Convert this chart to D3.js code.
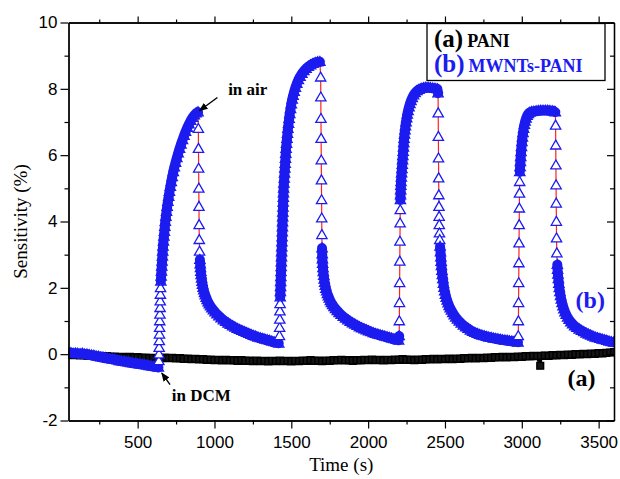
<!DOCTYPE html>
<html><head><meta charset="utf-8">
<script src="https://cdn.jsdelivr.net/npm/d3@7"></script>
<style>html,body{margin:0;padding:0;background:#fff}svg{display:block}</style>
</head><body><svg id="c" width="620" height="479"></svg>
<script>
// ---------- DATA ----------
const xDomain = [50, 3600];
const yDomain = [-2, 10];
const xMajorTicks = [500, 1000, 1500, 2000, 2500, 3000, 3500];
const xMinorTicks = [250, 750, 1250, 1750, 2250, 2750, 3250];
const yMajorTicks = [-2, 0, 2, 4, 6, 8, 10];
const yMinorTicks = [-1, 1, 3, 5, 7, 9];
const xTitle = "Time (s)";
const yTitle = "Sensitivity (%)";
const legendLabels = [["(a)", "PANI"], ["(b)", "MWNTs-PANI"]];

// (a) PANI  [time s, sensitivity %]
const pani = [[50,-0.02],[75,-0.03],[100,-0.02],[125,-0.04],[150,-0.03],[175,-0.05],[200,-0.04],[225,-0.06],[250,-0.05],[275,-0.07],[300,-0.06],[325,-0.08],[350,-0.07],[375,-0.09],[400,-0.08],[425,-0.1],[450,-0.08],[475,-0.1],[500,-0.09],[525,-0.11],[550,-0.1],[575,-0.12],[600,-0.11],[625,-0.13],[650,-0.12],[675,-0.1],[700,-0.12],[725,-0.11],[750,-0.13],[775,-0.12],[800,-0.14],[825,-0.13],[850,-0.15],[875,-0.14],[900,-0.16],[925,-0.15],[950,-0.17],[975,-0.16],[1000,-0.18],[1025,-0.17],[1050,-0.19],[1075,-0.17],[1100,-0.19],[1125,-0.18],[1150,-0.2],[1175,-0.18],[1200,-0.2],[1225,-0.19],[1250,-0.21],[1275,-0.19],[1300,-0.21],[1325,-0.2],[1350,-0.22],[1375,-0.2],[1400,-0.21],[1425,-0.19],[1450,-0.21],[1475,-0.2],[1500,-0.22],[1525,-0.2],[1550,-0.21],[1575,-0.19],[1600,-0.2],[1625,-0.18],[1650,-0.2],[1675,-0.19],[1700,-0.21],[1725,-0.19],[1750,-0.2],[1775,-0.18],[1800,-0.19],[1825,-0.17],[1850,-0.19],[1875,-0.18],[1900,-0.2],[1925,-0.18],[1950,-0.19],[1975,-0.17],[2000,-0.18],[2025,-0.16],[2050,-0.18],[2075,-0.17],[2100,-0.19],[2125,-0.17],[2150,-0.18],[2175,-0.16],[2200,-0.17],[2225,-0.15],[2250,-0.17],[2275,-0.16],[2300,-0.18],[2325,-0.16],[2350,-0.17],[2375,-0.15],[2400,-0.16],[2425,-0.14],[2450,-0.16],[2475,-0.14],[2500,-0.15],[2525,-0.13],[2550,-0.15],[2575,-0.13],[2600,-0.14],[2625,-0.12],[2650,-0.13],[2675,-0.11],[2700,-0.13],[2725,-0.11],[2750,-0.12],[2775,-0.1],[2800,-0.11],[2825,-0.09],[2850,-0.1],[2875,-0.08],[2900,-0.1],[2925,-0.08],[2950,-0.09],[2975,-0.07],[3000,-0.08],[3025,-0.06],[3050,-0.07],[3075,-0.05],[3100,-0.06],[3120,-0.35],[3125,-0.05],[3150,-0.04],[3175,-0.05],[3200,-0.03],[3225,-0.04],[3250,-0.02],[3275,-0.03],[3300,-0.01],[3325,-0.02],[3350,0.0],[3375,-0.01],[3400,0.01],[3425,0.0],[3450,0.02],[3475,0.01],[3500,0.03],[3525,0.02],[3550,0.04],[3575,0.05],[3600,0.06]];

// (b) MWNTs-PANI  [time s, sensitivity %], split by exposure segment
const bBaseline = [[50,0.03],[65,0.04],[80,0.02],[95,0.03],[110,0.02],[125,0.01],[140,0.02],[155,0.0],[170,0.0],[185,-0.02],[200,-0.03],[215,-0.04],[230,-0.06],[245,-0.07],[260,-0.09],[275,-0.1],[290,-0.11],[305,-0.13],[320,-0.14],[335,-0.15],[350,-0.16],[365,-0.18],[380,-0.2],[395,-0.21],[410,-0.22],[425,-0.23],[440,-0.24],[455,-0.26],[470,-0.27],[485,-0.28],[500,-0.29],[515,-0.3],[530,-0.31],[545,-0.32],[560,-0.33],[575,-0.35],[590,-0.36],[605,-0.37],[620,-0.38],[635,-0.4]];
const bRise1 = [[638,-0.2],[639,0.0],[640,0.2],[641,0.4],[642,0.6],[643,0.8],[644,1.0],[645,1.2],[646,1.4],[647,1.6],[648,1.8],[649,2.0],[651,2.2],[653,2.35],[655,2.5],[657,2.65],[659,2.8],[661,2.95],[663,3.1],[665,3.25],[668,3.4],[671,3.55],[674,3.7],[677,3.85],[680,4.0],[684,4.15],[688,4.3],[692,4.45],[697,4.6],[702,4.75],[707,4.9],[713,5.05],[719,5.2],[725,5.35],[732,5.5],[739,5.64],[747,5.78],[755,5.92],[764,6.06],[773,6.2],[782,6.33],[792,6.46],[802,6.59],[812,6.71],[823,6.83],[834,6.94],[845,7.04],[857,7.13],[869,7.21],[881,7.27],[893,7.3]];
const bFall1 = [[895,6.8],[896,6.2],[897,5.6],[898,5.0],[899,4.45],[900,3.9],[901,3.45],[903,3.1],[905,2.85],[907,2.72],[909,2.6],[911,2.49],[913,2.39],[916,2.29],[919,2.19],[922,2.1],[926,2.01],[930,1.93],[935,1.85],[940,1.78],[946,1.71],[952,1.64],[959,1.57],[966,1.51],[974,1.45],[983,1.39],[993,1.33],[1004,1.27],[1016,1.21],[1029,1.15],[1043,1.09],[1058,1.03],[1073,0.98],[1088,0.93],[1103,0.89],[1118,0.85],[1133,0.81],[1148,0.77],[1163,0.74],[1178,0.71],[1193,0.68],[1208,0.65],[1223,0.62],[1238,0.59],[1253,0.56],[1268,0.54],[1283,0.51],[1298,0.49],[1313,0.47],[1328,0.45],[1343,0.43],[1358,0.41],[1373,0.39],[1388,0.37],[1403,0.35],[1418,0.33]];
const bRise2 = [[1423,0.55],[1424,0.8],[1425,1.05],[1426,1.3],[1427,1.52],[1428,1.72],[1429,1.88],[1430,2.03],[1431,2.18],[1432,2.33],[1433,2.48],[1434,2.63],[1435,2.78],[1436,2.93],[1437,3.08],[1438,3.23],[1439,3.38],[1440,3.53],[1441,3.68],[1442,3.83],[1443,3.98],[1444,4.13],[1445,4.28],[1446,4.43],[1447,4.58],[1448,4.72],[1449,4.86],[1450,5.0],[1452,5.15],[1454,5.3],[1456,5.45],[1458,5.6],[1460,5.75],[1462,5.9],[1464,6.05],[1466,6.2],[1469,6.35],[1472,6.5],[1475,6.65],[1478,6.8],[1482,6.95],[1486,7.1],[1490,7.25],[1495,7.4],[1500,7.54],[1506,7.68],[1512,7.8],[1519,7.92],[1527,8.04],[1536,8.16],[1546,8.27],[1557,8.37],[1569,8.46],[1582,8.54],[1596,8.61],[1611,8.67],[1626,8.72],[1641,8.76],[1656,8.79],[1671,8.81],[1686,8.82]];
const bFall2 = [[1691,8.35],[1692,7.75],[1693,7.1],[1694,6.5],[1695,5.85],[1696,5.25],[1697,4.65],[1698,4.1],[1699,3.6],[1700,3.2],[1701,3.02],[1702,2.87],[1704,2.73],[1706,2.6],[1708,2.48],[1711,2.37],[1714,2.26],[1717,2.16],[1721,2.07],[1725,1.98],[1730,1.9],[1735,1.82],[1741,1.75],[1747,1.68],[1754,1.61],[1761,1.55],[1769,1.49],[1778,1.43],[1788,1.37],[1799,1.31],[1811,1.25],[1824,1.19],[1838,1.13],[1853,1.08],[1868,1.03],[1883,0.98],[1898,0.94],[1913,0.9],[1928,0.86],[1943,0.82],[1958,0.79],[1973,0.76],[1988,0.73],[2003,0.7],[2018,0.67],[2033,0.64],[2048,0.62],[2063,0.6],[2078,0.58],[2093,0.56],[2108,0.54],[2123,0.52],[2138,0.5],[2153,0.48],[2168,0.46],[2183,0.44],[2198,0.42]];
const bRise3 = [[2202,0.55],[2203,1.0],[2204,1.55],[2205,2.15],[2206,2.8],[2207,3.4],[2208,3.95],[2209,4.35],[2210,4.65],[2211,4.8],[2212,4.95],[2213,5.08],[2214,5.2],[2216,5.33],[2218,5.46],[2220,5.59],[2222,5.72],[2224,5.85],[2226,5.98],[2228,6.11],[2230,6.24],[2232,6.37],[2234,6.5],[2237,6.63],[2240,6.76],[2243,6.88],[2247,7.0],[2251,7.12],[2255,7.23],[2260,7.34],[2266,7.45],[2272,7.55],[2279,7.64],[2287,7.73],[2296,7.81],[2306,7.88],[2318,7.94],[2331,7.98],[2345,8.01],[2360,8.03],[2375,8.04],[2390,8.04],[2405,8.03],[2420,8.02],[2435,8.01],[2450,8.0]];
const bFall3 = [[2455,7.87],[2456,7.27],[2457,6.56],[2458,5.91],[2459,5.31],[2460,4.8],[2461,4.45],[2462,4.15],[2463,3.9],[2464,3.65],[2466,3.45],[2468,3.25],[2471,3.08],[2473,2.93],[2475,2.79],[2477,2.66],[2480,2.52],[2483,2.39],[2486,2.27],[2490,2.13],[2494,2.01],[2498,1.9],[2503,1.8],[2508,1.71],[2514,1.62],[2520,1.54],[2527,1.46],[2534,1.39],[2542,1.32],[2551,1.25],[2560,1.18],[2570,1.11],[2581,1.05],[2593,0.99],[2606,0.93],[2620,0.87],[2635,0.82],[2650,0.77],[2665,0.72],[2680,0.68],[2695,0.65],[2710,0.62],[2725,0.59],[2740,0.57],[2755,0.55],[2770,0.53],[2785,0.51],[2800,0.5],[2815,0.48],[2830,0.47],[2845,0.46],[2860,0.44],[2875,0.43],[2890,0.42],[2905,0.41],[2920,0.4],[2935,0.39],[2950,0.38],[2965,0.37],[2975,0.36]];
const bRise4 = [[2977,0.55],[2978,1.0],[2979,1.55],[2980,2.15],[2981,2.75],[2982,3.35],[2983,3.9],[2984,4.4],[2985,4.85],[2986,5.2],[2987,5.5],[2989,5.65],[2991,5.8],[2993,5.95],[2995,6.1],[2998,6.25],[3001,6.4],[3004,6.54],[3008,6.67],[3012,6.8],[3017,6.92],[3022,7.02],[3028,7.11],[3035,7.19],[3043,7.25],[3052,7.29],[3064,7.31],[3078,7.32],[3093,7.33],[3108,7.34],[3123,7.35],[3138,7.35],[3153,7.35],[3168,7.35],[3183,7.34],[3198,7.33],[3210,7.32],[3218,7.3]];
const bFall4 = [[3220,6.9],[3221,6.3],[3222,5.7],[3223,5.1],[3224,4.55],[3225,4.0],[3226,3.5],[3228,3.05],[3231,2.7],[3233,2.55],[3235,2.41],[3238,2.27],[3241,2.13],[3244,2.0],[3248,1.88],[3252,1.76],[3257,1.65],[3262,1.55],[3268,1.45],[3274,1.36],[3281,1.27],[3289,1.19],[3298,1.11],[3308,1.04],[3319,0.97],[3331,0.91],[3344,0.85],[3358,0.8],[3373,0.75],[3388,0.71],[3403,0.67],[3418,0.63],[3433,0.6],[3448,0.57],[3463,0.54],[3478,0.51],[3493,0.49],[3508,0.47],[3523,0.45],[3538,0.43],[3553,0.41],[3568,0.39],[3583,0.37],[3598,0.36]];

// annotations
const annotations = [
  {text: "in air", t: 1089, v: 7.82, arrowFrom: [1019, 7.74], arrowTo: [902, 7.34]},
  {text: "in DCM", t: 722, v: -1.40, arrowFrom: [711, -0.92], arrowTo: [657, -0.57]}
];
const seriesTags = [{text: "(b)", t: 3350, v: 1.38, color: "#1c1cf0"}, {text: "(a)", t: 3298, v: -0.95, color: "#000"}];

// ---------- CHART ----------
const M = {left: 68.5, right: 614, top: 22.5, bottom: 420.5};
const svg = d3.select("#c");
const x = d3.scaleLinear().domain(xDomain).range([M.left, M.right]);
const y = d3.scaleLinear().domain(yDomain).range([M.bottom, M.top]);
const blue = "#1c1cf0";
const serif = "'Liberation Serif','Times New Roman',serif";
const sans = "'Liberation Sans',Arial,sans-serif";

svg.append("defs").append("clipPath").attr("id", "plotclip")
  .append("rect").attr("x", M.left).attr("y", M.top)
  .attr("width", M.right - M.left).attr("height", M.bottom - M.top);
const plot = svg.append("g").attr("clip-path", "url(#plotclip)");
const line = d3.line().x(d => x(d[0])).y(d => y(d[1]));

// series (a): dense open squares
plot.append("path").datum(pani).attr("d", line)
  .attr("fill", "none").attr("stroke", "#000").attr("stroke-width", 3);
const sq = d3.symbol().type(d3.symbolSquare).size(46);
plot.append("g").selectAll("path").data(pani).join("path")
  .attr("d", sq).attr("transform", d => `translate(${x(d[0])},${y(d[1])})`)
  .attr("fill", "#151515").attr("stroke", "#000").attr("stroke-width", 1.4);

// series (b): red connecting line, overlapping triangle markers
const bAll = [].concat(bBaseline, bRise1, bFall1, bRise2, bFall2, bRise3, bFall3, bRise4, bFall4);
plot.append("path").datum(bAll).attr("d", line)
  .attr("fill", "none").attr("stroke", "#ff2020").attr("stroke-width", 1.2);

// where successive markers overlap (closer than ~6 px) they merge into a solid band
const pts = bAll.map(d => [x(d[0]), y(d[1])]);
const near = 6.2;
let bandPath = "";
const isolated = pts.map(() => true);
for (let i = 1; i < pts.length; i++) {
  const dd = Math.hypot(pts[i][0] - pts[i-1][0], pts[i][1] - pts[i-1][1]);
  if (dd < near) {
    bandPath += `M${pts[i-1][0]},${pts[i-1][1]}L${pts[i][0]},${pts[i][1]}`;
    isolated[i] = false; isolated[i-1] = false;
  }
}
plot.append("path").attr("d", bandPath).attr("fill", "none").attr("stroke", blue)
  .attr("stroke-width", 10).attr("stroke-linecap", "round").attr("stroke-linejoin", "round");

const tri = d3.symbol().type(d3.symbolTriangle).size(46);
const triT = d => `translate(${x(d[0])},${y(d[1]) + 0.8})`;
plot.append("g").selectAll("path").data(bAll).join("path")
  .attr("d", tri).attr("transform", triT)
  .attr("fill", (d, i) => isolated[i] ? "#fff" : "none")
  .attr("stroke", blue).attr("stroke-width", 1.3);

// axes
function styleAxis(g) {
  g.selectAll("path.domain").attr("stroke", "#000").attr("stroke-width", 1.3);
  g.selectAll(".tick line").attr("stroke", "#000").attr("stroke-width", 1.2);
  g.selectAll(".tick text").attr("font-family", sans).attr("font-size", 17).attr("fill", "#000");
}
const fmt = d => String(d);
const bottomMajor = svg.append("g").attr("transform", `translate(0,${M.bottom})`)
  .call(d3.axisBottom(x).tickValues(xMajorTicks).tickSize(8).tickSizeOuter(0).tickFormat(fmt));
styleAxis(bottomMajor);
bottomMajor.selectAll(".tick text").attr("y", 14).attr("dy", "0.78em");
const bottomMinor = svg.append("g").attr("transform", `translate(0,${M.bottom})`)
  .call(d3.axisBottom(x).tickValues(xMinorTicks).tickSize(4).tickSizeOuter(0).tickFormat(""));
styleAxis(bottomMinor);

const topMajor = svg.append("g").attr("transform", `translate(0,${M.top})`)
  .call(d3.axisTop(x).tickValues(xMajorTicks).tickSize(6).tickSizeOuter(0).tickFormat(""));
styleAxis(topMajor);
const topMinor = svg.append("g").attr("transform", `translate(0,${M.top})`)
  .call(d3.axisTop(x).tickValues(xMinorTicks).tickSize(3).tickSizeOuter(0).tickFormat(""));
styleAxis(topMinor);

const leftMajor = svg.append("g").attr("transform", `translate(${M.left},0)`)
  .call(d3.axisLeft(y).tickValues(yMajorTicks).tickSize(8).tickSizeOuter(0).tickPadding(3).tickFormat(fmt));
styleAxis(leftMajor);
const leftMinor = svg.append("g").attr("transform", `translate(${M.left},0)`)
  .call(d3.axisLeft(y).tickValues(yMinorTicks).tickSize(4).tickSizeOuter(0).tickFormat(""));
styleAxis(leftMinor);

const rightMajor = svg.append("g").attr("transform", `translate(${M.right},0)`)
  .call(d3.axisRight(y).tickValues(yMajorTicks).tickSize(-7).tickSizeOuter(0).tickFormat(""));
styleAxis(rightMajor);
const rightMinor = svg.append("g").attr("transform", `translate(${M.right},0)`)
  .call(d3.axisRight(y).tickValues(yMinorTicks).tickSize(-4).tickSizeOuter(0).tickFormat(""));
styleAxis(rightMinor);

// axis titles
svg.append("text").attr("x", (M.left + M.right) / 2).attr("y", 471)
  .attr("text-anchor", "middle").attr("font-family", serif).attr("font-size", 19).text(xTitle);
svg.append("text").attr("transform", `translate(27,${(M.top + M.bottom) / 2}) rotate(-90)`)
  .attr("text-anchor", "middle").attr("font-family", serif).attr("font-size", 19).text(yTitle);

// annotations
svg.append("defs").append("marker").attr("id", "ah").attr("viewBox", "0 0 10 10")
  .attr("refX", 9).attr("refY", 5).attr("markerWidth", 9).attr("markerHeight", 9)
  .attr("markerUnits", "userSpaceOnUse").attr("orient", "auto")
  .append("path").attr("d", "M0,1 L10,5 L0,9 z").attr("fill", "#000");
annotations.forEach(a => {
  svg.append("text").attr("x", x(a.t)).attr("y", y(a.v)).attr("font-family", serif)
    .attr("font-weight", "bold").attr("font-size", 17).attr("fill", "#000").text(a.text);
  svg.append("line").attr("x1", x(a.arrowFrom[0])).attr("y1", y(a.arrowFrom[1]))
    .attr("x2", x(a.arrowTo[0])).attr("y2", y(a.arrowTo[1]))
    .attr("stroke", "#000").attr("stroke-width", 1.4).attr("marker-end", "url(#ah)");
});
seriesTags.forEach(s => {
  svg.append("text").attr("x", x(s.t)).attr("y", y(s.v)).attr("font-family", serif)
    .attr("font-weight", "bold").attr("font-size", 24).attr("fill", s.color).text(s.text);
});

// legend
const lg = svg.append("g");
lg.append("rect").attr("x", 427).attr("y", 23.5).attr("width", 178).attr("height", 57)
  .attr("fill", "#fff").attr("stroke", "#000").attr("stroke-width", 1.3);
const legendColors = ["#000", blue];
legendLabels.forEach((l, i) => {
  const t = lg.append("text").attr("x", 434).attr("y", 47 + i * 25)
    .attr("font-family", serif).attr("font-weight", "bold").attr("fill", legendColors[i]);
  t.append("tspan").attr("font-size", 25).text(l[0]);
  t.append("tspan").attr("font-size", 18).attr("dx", 4).text(l[1]);
});
</script></body></html>
